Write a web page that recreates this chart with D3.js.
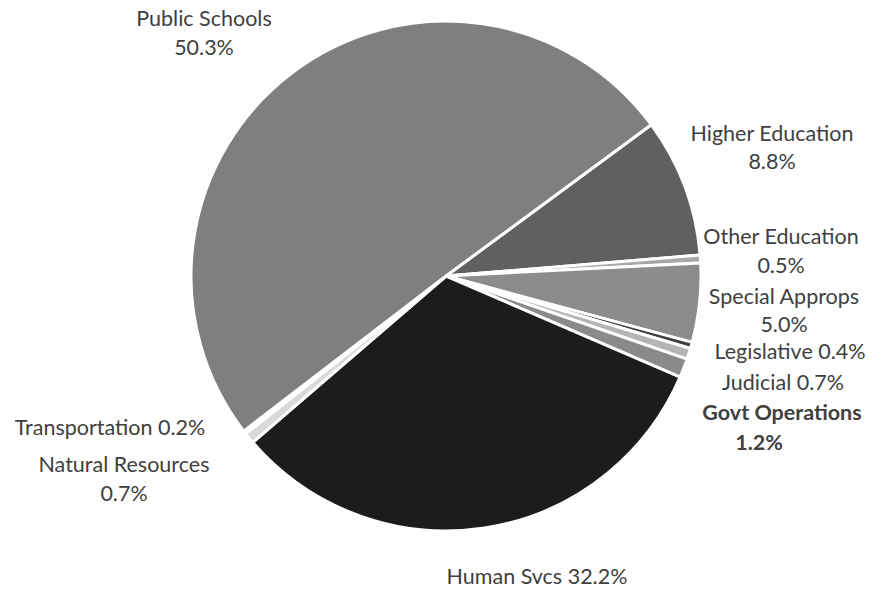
<!DOCTYPE html>
<html>
<head>
<meta charset="utf-8">
<script src="https://cdn.jsdelivr.net/npm/d3@7/dist/d3.min.js"></script>
<style>
  html, body { margin: 0; padding: 0; background: #fff; }
  svg text { font-family: Lato, "Open Sans", sans-serif; fill: #404040; }
</style>
</head>
<body>
<svg id="chart" width="883" height="590"></svg>
<script>
// Budget shares by area, in clockwise order starting at Higher Education
const categories = ["Higher Education", "Other Education", "Special Approps", "Legislative",
  "Judicial", "Govt Operations", "Human Svcs", "Natural Resources", "Transportation", "Public Schools"];
const shares = [8.8, 0.5, 5.0, 0.4, 0.7, 1.2, 32.2, 0.7, 0.2, 50.3];
const sliceColors = ["#606060", "#a8a8a8", "#8c8c8c", "#3f3f3f", "#b4b4b4", "#8a8a8a",
  "#1c1c1c", "#d9d9d9", "#ececec", "#7f7f7f"];

// Label text lines per category, their centre positions and line spacing
const labelLines = [
  ["Higher Education", "8.8%"], ["Other Education", "0.5%"], ["Special Approps", "5.0%"],
  ["Legislative 0.4%"], ["Judicial 0.7%"], ["Govt Operations", "1.2%"],
  ["Human Svcs 32.2%"], ["Natural Resources", "0.7%"], ["Transportation 0.2%"], ["Public Schools", "50.3%"]
];
const labelPos = [
  [772, 133], [781, 236], [784, 296], [790, 351], [783, 382], [782, 412],
  [537, 576], [124, 464], [110, 427], [204, 18]
];
const lineGaps = [28, 29, 28, 29, 29, 30, 29, 29, 29, 29];
const boldLabels = ["Govt Operations"];

const svg = d3.select("#chart");
const cx = 446, cy = 276, radius = 255;
const startDeg = 53.6;

const data = categories.map((c, i) => ({
  name: c, value: shares[i], color: sliceColors[i],
  lines: labelLines[i], pos: labelPos[i], gap: lineGaps[i]
}));

const pie = d3.pie()
  .value(d => d.value)
  .sort(null)
  .startAngle(startDeg * Math.PI / 180)
  .endAngle(startDeg * Math.PI / 180 + 2 * Math.PI);

const arc = d3.arc().innerRadius(0).outerRadius(radius);

const g = svg.append("g").attr("transform", `translate(${cx},${cy})`);
g.selectAll("path")
  .data(pie(data))
  .join("path")
  .attr("d", arc)
  .attr("fill", d => d.data.color)
  .attr("stroke", "#fff")
  .attr("stroke-width", 3)
  .attr("stroke-linejoin", "round");

// Category labels
const labels = svg.append("g");
data.forEach(d => {
  const bold = boldLabels.includes(d.name);
  const t = labels.append("text")
    .attr("text-anchor", "middle")
    .style("font-size", "21.5px")
    .style("font-weight", bold ? "bold" : "normal");
  d.lines.forEach((line, j) => {
    t.append("tspan")
      .attr("x", d.pos[0] + (bold && j === 1 ? -23 : 0))
      .attr("y", d.pos[1] + j * d.gap)
      .attr("dy", "0.35em")
      .text(line);
  });
});
</script>
</body>
</html>
